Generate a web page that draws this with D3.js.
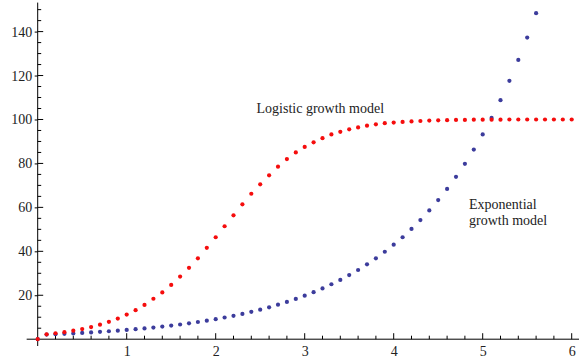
<!DOCTYPE html>
<html>
<head>
<meta charset="utf-8">
<script src="https://cdn.jsdelivr.net/npm/d3@7"></script>
<style>
  body { margin: 0; background: #fff; }
  svg { display: block; }
  text { font-family: "Liberation Serif", "Times New Roman", serif; fill: #222; }
</style>
</head>
<body>
<div class="graphic"></div>
<script>
// x runs 0, 0.1, ... 6.0
const xValues = d3.range(61).map(i => i / 10);

const logistic = [0, 2.2, 2.7, 3.2, 3.9, 4.6, 5.5, 6.6, 7.9, 9.4,
  11.2, 13.2, 15.6, 18.4, 21.3, 24.7, 28.5, 32.5, 36.8, 41.6,
  46.4, 51.4, 56.4, 61.4, 66.2, 70.5, 74.6, 78.5, 82.0, 85.0,
  87.5, 89.6, 91.5, 93.2, 94.4, 95.5, 96.4, 97.2, 97.8, 98.3,
  98.6, 98.9, 99.1, 99.3, 99.5, 99.6, 99.7, 99.8, 99.8, 99.9,
  99.9, 99.9, 99.9, 100, 100, 100, 100, 100, 100, 100, 100];

const exponential = [0, 2.1, 2.27, 2.45, 2.65, 2.86, 3.09, 3.34, 3.61, 3.9,
  4.21, 4.55, 4.92, 5.31, 5.74, 6.2, 6.7, 7.24, 7.82, 8.45,
  9.13, 9.87, 10.66, 11.52, 12.45, 13.45, 14.53, 15.7, 16.97, 18.33,
  19.81, 21.4, 23.1, 25.0, 27.0, 29.2, 31.5, 34.1, 36.8, 39.8,
  43.0, 46.4, 50.2, 54.2, 58.6, 63.3, 68.4, 73.9, 79.8, 86.3,
  93.2, 100.7, 108.8, 117.6, 127.1, 137.3, 148.4];

const xTicks = [1, 2, 3, 4, 5, 6];
const yTicks = [20, 40, 60, 80, 100, 120, 140];

const width = 579, height = 362;
const serif = '"Liberation Serif", "Times New Roman", serif';

const svg = d3.select('.graphic')
  .append('svg')
  .attr('width', width)
  .attr('height', height);

const x = d3.scaleLinear().domain([0, 6]).range([37.7, 571.7]);
const y = d3.scaleLinear().domain([0, 140]).range([339.2, 31.6]);

const xMinor = d3.range(1, 31).map(i => i / 5).filter(v => !xTicks.includes(v));
const yMinor = d3.range(1, 31).map(i => i * 5).filter(v => !yTicks.includes(v));

// axis lines
svg.append('line')
  .attr('x1', x(-0.124)).attr('x2', width)
  .attr('y1', y(0)).attr('y2', y(0))
  .style('stroke', '#000').style('stroke-width', 1);

svg.append('line')
  .attr('x1', x(0)).attr('x2', x(0))
  .attr('y1', y(-3.1)).attr('y2', y(153.2))
  .style('stroke', '#000').style('stroke-width', 1);

// y ticks: labels + small outside stub from d3 axis, inside ticks drawn after
const yAxis = svg.append('g')
  .attr('transform', 'translate(' + x(0) + ',0)')
  .call(d3.axisLeft(y).tickValues(yTicks).tickFormat(d3.format('d')).tickSize(3).tickPadding(2.5));
yAxis.attr('font-family', serif).attr('font-size', 14);
yAxis.select('.domain').remove();
yAxis.selectAll('text').style('font-family', serif).style('font-size', '14px').style('fill', '#222');
yAxis.selectAll('line').style('stroke', '#000');

svg.append('g').selectAll('line')
  .data(yTicks)
  .enter().append('line')
  .attr('x1', x(0)).attr('x2', x(0) + 5.5)
  .attr('y1', d => y(d)).attr('y2', d => y(d))
  .style('stroke', '#000');

svg.append('g').selectAll('line')
  .data(yMinor)
  .enter().append('line')
  .attr('x1', x(0)).attr('x2', x(0) + 3.5)
  .attr('y1', d => y(d)).attr('y2', d => y(d))
  .style('stroke', '#000');

// x ticks
const xAxis = svg.append('g')
  .attr('transform', 'translate(0,' + y(0) + ')')
  .call(d3.axisBottom(x).tickValues(xTicks).tickFormat(d3.format('d')).tickSize(0).tickPadding(7));
xAxis.attr('font-family', serif).attr('font-size', 14);
xAxis.select('.domain').remove();
xAxis.selectAll('text').style('font-family', serif).style('font-size', '14px').style('fill', '#222');

svg.append('g').selectAll('line')
  .data(xTicks)
  .enter().append('line')
  .attr('x1', d => x(d)).attr('x2', d => x(d))
  .attr('y1', y(0)).attr('y2', y(0) - 6)
  .style('stroke', '#000');

svg.append('g').selectAll('line')
  .data(xMinor)
  .enter().append('line')
  .attr('x1', d => x(d)).attr('x2', d => x(d))
  .attr('y1', y(0)).attr('y2', y(0) - 3.5)
  .style('stroke', '#000');

// dots
svg.append('g').selectAll('circle')
  .data(exponential)
  .enter().append('circle')
  .attr('cx', (d, i) => x(xValues[i]))
  .attr('cy', d => y(d))
  .attr('r', 2.1)
  .style('fill', '#3c3c9c');

svg.append('g').selectAll('circle')
  .data(logistic)
  .enter().append('circle')
  .attr('cx', (d, i) => x(xValues[i]))
  .attr('cy', d => y(d))
  .attr('r', 2.1)
  .style('fill', '#f50d0d');

// labels
svg.append('text')
  .attr('x', 256.5).attr('y', 113)
  .style('font-size', '14px')
  .text('Logistic growth model');

svg.append('text')
  .attr('x', 469).attr('y', 209)
  .style('font-size', '14px')
  .text('Exponential');

svg.append('text')
  .attr('x', 469).attr('y', 225)
  .style('font-size', '14px')
  .text('growth model');
</script>
</body>
</html>
